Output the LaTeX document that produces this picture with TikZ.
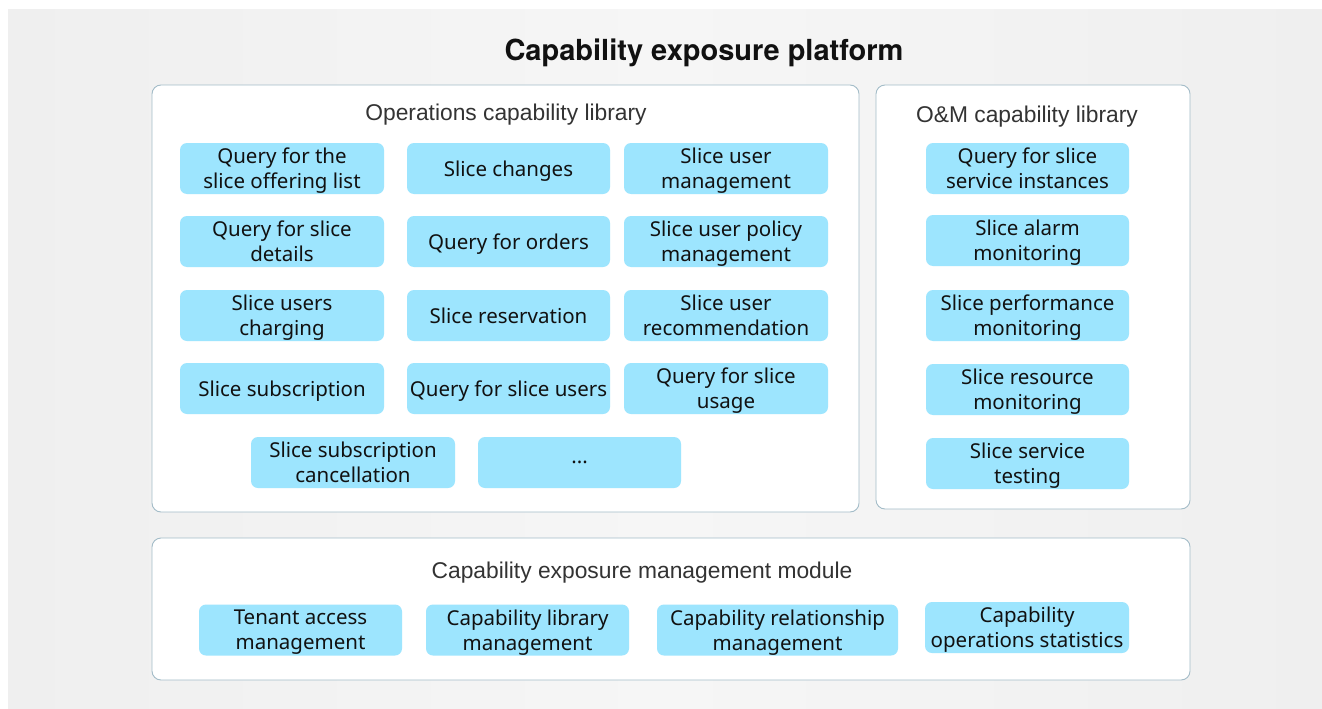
\documentclass[tikz,border=0pt]{standalone}
\usepackage{fontspec}
\setmainfont{Noto Sans}
\newfontfamily\titlefont{TeX Gyre Heros}
\newfontfamily\headfont{Liberation Sans}
\usetikzlibrary{positioning}
\definecolor{pagegray}{HTML}{EFEFEF}
\definecolor{pagelight}{HTML}{F6F6F6}
\definecolor{frameline}{HTML}{A3BCC8}
\definecolor{capblue}{HTML}{9DE5FE}
\definecolor{inktext}{HTML}{111111}
\definecolor{headtext}{HTML}{333333}
\tikzset{
  panel/.style={draw=frameline, line width=0.9pt, fill=white, rounded corners=9pt},
  capbox/.style={fill=capblue, rounded corners=7pt, inner sep=0pt,
    minimum height=51pt, text=inktext, align=center, text depth=0pt,
    font=\fontsize{20.5}{25}\selectfont},
  panelhead/.style={text=headtext, font=\headfont\fontsize{22.8}{27}\selectfont},
  pagetitle/.style={text=inktext, font=\titlefont\bfseries\fontsize{29}{34}\selectfont}
}
\begin{document}
\begin{tikzpicture}[x=1pt, y=-1pt]
\useasboundingbox (0,0) rectangle (1322,709);
% page background
\shade[left color=pagegray, right color=pagegray, middle color=pagelight] (8,10) rectangle (1322,709);

% title
\node[pagetitle, anchor=base] (title) at (704,60) {Capability exposure platform};

% panels
\draw[panel] (152,85) rectangle (859,512);
\draw[panel] (876,85) rectangle (1190,509);
\draw[panel] (152,538) rectangle (1190,680);

\node[panelhead, anchor=base] (opshead) at (506,120) {Operations capability library};
\node[panelhead, anchor=base] (omhead) at (1027,122) {O\&M capability library};
\node[panelhead, anchor=base] (mgmthead) at (642,578) {Capability exposure management module};

% operations capabilities
\node[capbox, minimum width=204pt] (o11) at (282,168.5) {Query for the\\slice offering list};
\node[capbox, minimum width=203pt] (o12) at (508.5,168.5) {Slice changes};
\node[capbox, minimum width=204pt] (o13) at (726,168.5) {Slice user\\management};

\node[capbox, minimum width=204pt] (o21) at (282,241.5) {Query for slice\\details};
\node[capbox, minimum width=203pt] (o22) at (508.5,241.5) {Query for orders};
\node[capbox, minimum width=204pt] (o23) at (726,241.5) {Slice user policy\\management};

\node[capbox, minimum width=204pt] (o31) at (282,315.5) {Slice users\\charging};
\node[capbox, minimum width=203pt] (o32) at (508.5,315.5) {Slice reservation};
\node[capbox, minimum width=204pt] (o33) at (726,315.5) {Slice user\\recommendation};

\node[capbox, minimum width=204pt] (o41) at (282,388.5) {Slice subscription};
\node[capbox, minimum width=203pt] (o42) at (508.5,388.5) {Query for slice users};
\node[capbox, minimum width=204pt] (o43) at (726,388.5) {Query for slice\\usage};

\node[capbox, minimum width=204pt] (o51) at (353,462.5) {Slice subscription\\cancellation};
\node[capbox, minimum width=203pt] (o52) at (579.5,462.5) {...};

% O&M capabilities
\node[capbox, minimum width=203pt] (m1) at (1027.5,168.5) {Query for slice\\service instances};
\node[capbox, minimum width=203pt] (m2) at (1027.5,240.5) {Slice alarm\\monitoring};
\node[capbox, minimum width=203pt] (m3) at (1027.5,315.5) {Slice performance\\monitoring};
\node[capbox, minimum width=203pt] (m4) at (1027.5,389.5) {Slice resource\\monitoring};
\node[capbox, minimum width=203pt] (m5) at (1027.5,463.5) {Slice service\\testing};

% management module
\node[capbox, minimum width=203pt] (g1) at (300.5,630) {Tenant access\\management};
\node[capbox, minimum width=203pt] (g2) at (527.5,630) {Capability library\\management};
\node[capbox, minimum width=241pt] (g3) at (777.5,630) {Capability relationship\\management};
\node[capbox, minimum width=204pt] (g4) at (1027,627.5) {Capability\\operations statistics};
\end{tikzpicture}
\end{document}
